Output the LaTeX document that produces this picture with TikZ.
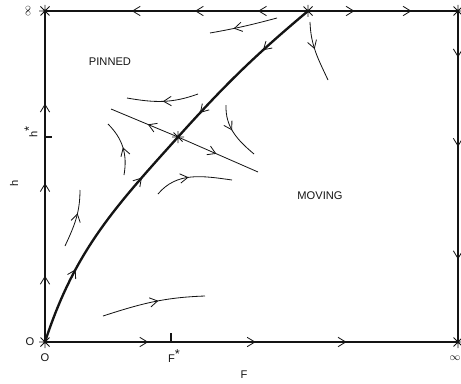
\documentclass[tikz,border=0pt]{standalone}
\usepackage{fontspec}
\setmainfont{Liberation Sans}
\usepackage{tikz}
\usetikzlibrary{arrows.meta,decorations.markings}
\definecolor{ink}{RGB}{20,20,20}

\begin{document}
\begin{tikzpicture}[x=0.03cm, y=0.03cm,
  chev/.tip={Straight Barb[length=2.3mm,width=2.8mm,line width=0.7pt]},
  flow/.style={postaction={decorate,decoration={markings,mark=at position #1 with {\arrow{chev}}}}},
  axisline/.style={line width=0.9pt, color=ink},
  traj/.style={line width=0.7pt, color=ink},
  fixpt/.pic={\draw[line width=0.8pt, color=ink] (-6,0)--(6,0) (0,-6)--(0,6) (-4.5,-4.5)--(4.5,4.5) (-4.5,4.5)--(4.5,-4.5);},
  every node/.style={font=\fontsize{9.5}{11}\selectfont, color=ink}]
\useasboundingbox (-45,-41) rectangle (416,342);
\coordinate (O) at (0,0);
\coordinate (Htop) at (0,331);
\coordinate (Fc) at (263,331);
\coordinate (TR) at (413,331);
\coordinate (BR) at (413,0);
\coordinate (S) at (133,205);
\coordinate (U1) at (66,233);
\coordinate (U2) at (213,170);
\coordinate (hstar) at (0,205);
\coordinate (Fstar) at (126,0);
% box edges
\draw[axisline, flow=0.2, flow=0.48, flow=0.72] (O) -- (Htop);
\draw[axisline, flow=0.19, flow=0.43, flow=0.67] (Fc) -- (Htop);
\draw[axisline, flow=0.31, flow=0.69] (Fc) -- (TR);
\draw[axisline, flow=0.14, flow=0.41, flow=0.75] (TR) -- (BR);
\draw[axisline, flow=0.25, flow=0.51, flow=0.73] (O) -- (BR);
\draw[axisline] (hstar) -- ++(7,0);
\draw[axisline] (Fstar) -- ++(0,9);
% separatrix
\draw[line width=2pt, color=ink, flow=0.32, flow=0.78] (O) to[out=72,in=228] (S);
\draw[line width=2pt, color=ink, flow=0.33, flow=0.82] (Fc) to[out=220,in=48] (S);
\draw[traj, flow=0.45] (S) -- (U1);
\draw[traj, flow=0.48] (S) -- (U2);
% trajectories
\draw[traj, flow=0.65] (232,324) to[out=195,in=10] (165,309);
\draw[traj, flow=0.45] (265,320) to[out=-88,in=115] (283,262);
\draw[traj, flow=0.5] (153,248) to[out=200,in=-10] (82,244);
\draw[traj, flow=0.5] (79,167) to[out=80,in=-45] (63,218);
\draw[traj, flow=0.45] (181,237) to[out=-92,in=140] (209,188);
\draw[traj, flow=0.45] (113,148) to[out=50,in=172] (187,162);
\draw[traj, flow=0.6] (20,96) to[out=65,in=-90] (35,152);
\draw[traj, flow=0.55] (58,26) to[out=18,in=182] (160,46);
% fixed points
\foreach \p in {O,Htop,Fc,TR,BR,S} \pic at (\p) {fixpt};
% labels
\node (lO1) at (-15,0) {O};
\node (lO2) at (0,-16) {O};
\node[rotate=90] (linf1) at (-17,331) {$\infty$};
\node[rotate=90] (lhs) at (-14,210) {h\raisebox{0.7ex}{\fontsize{11}{11}\selectfont*}};
\node[rotate=90] (lh) at (-31,159) {h};
\node (lFs) at (129,-14) {F\raisebox{0.7ex}{\fontsize{11}{11}\selectfont*}};
\node (lF) at (199,-33) {F};
\node (linf2) at (410,-16) {$\infty$};
\node (pinned) at (65,280) {PINNED};
\node (moving) at (275,146) {MOVING};
\end{tikzpicture}
\end{document}
